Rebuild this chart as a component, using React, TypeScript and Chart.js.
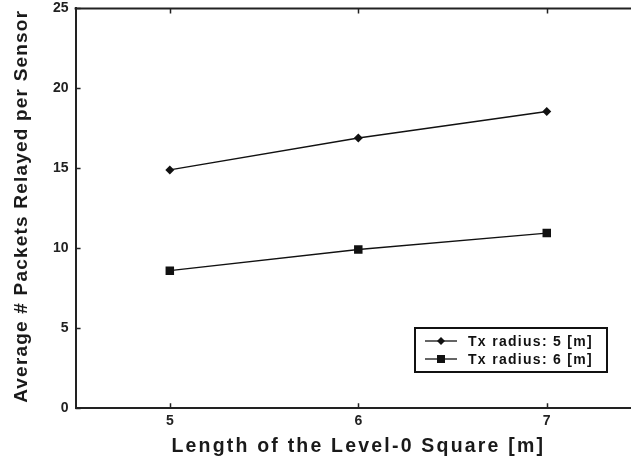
import React, { useEffect, useRef } from "react";
import { Chart, registerables } from "chart.js";

Chart.register(...registerables);

const categories = [5, 6, 7];
const seriesLabels = ["Tx radius: 5 [m]", "Tx radius: 6 [m]"];
const radius5Values = [14.9, 16.9, 18.55];
const radius6Values = [8.6, 9.92, 10.95];
const yTicks = [0, 5, 10, 15, 20, 25];
const xTitle = "Length of the Level-0 Square [m]";
const yTitle = "Average # Packets Relayed per Sensor";

const FONT = "'Liberation Sans', Arial, Helvetica, sans-serif";
const SHIFT = 7;

const framePlugin = {
  id: "frame",
  afterDraw(chart: any) {
    const { ctx, chartArea: a, scales } = chart;
    const xs = scales.x;
    const ys = scales.y;
    ctx.save();
    ctx.strokeStyle = "#222";
    ctx.lineWidth = 2;
    ctx.beginPath();
    ctx.moveTo(a.left - 1, a.top);
    ctx.lineTo(a.right, a.top);
    ctx.stroke();
    ctx.lineWidth = 1.5;
    for (const v of categories) {
      const px = Math.round(xs.getPixelForValue(v)) + 0.5;
      ctx.beginPath();
      ctx.moveTo(px, a.bottom);
      ctx.lineTo(px, a.bottom - 5);
      ctx.moveTo(px, a.top);
      ctx.lineTo(px, a.top + 5);
      ctx.stroke();
    }
    for (const v of yTicks) {
      const py = Math.round(ys.getPixelForValue(v)) + 0.5;
      ctx.beginPath();
      ctx.moveTo(a.left, py);
      ctx.lineTo(a.left + 5, py);
      ctx.stroke();
    }
    // axis titles
    ctx.fillStyle = "#1a1a1a";
    ctx.font = `bold 19.5px ${FONT}`;
    (ctx as any).letterSpacing = "2.2px";
    ctx.textAlign = "center";
    ctx.textBaseline = "alphabetic";
    ctx.fillText(xTitle, (a.left + 641) / 2, 452 + SHIFT);
    ctx.save();
    ctx.translate(27, (a.top + a.bottom) / 2 - 2);
    ctx.rotate(-Math.PI / 2);
    ctx.font = `bold 19px ${FONT}`;
    (ctx as any).letterSpacing = "1.2px";
    ctx.fillText(yTitle, 0, 0);
    ctx.restore();
    // legend
    const lx = 415, ly = 328 + SHIFT, lw = 192, lh = 44;
    ctx.fillStyle = "#fff";
    ctx.fillRect(lx, ly, lw, lh);
    ctx.lineWidth = 2;
    ctx.strokeStyle = "#111";
    ctx.strokeRect(lx, ly, lw, lh);
    const styles = ["rectRot", "rect"];
    seriesLabels.forEach((lab, i) => {
      const cy = ly + 13 + i * 18;
      ctx.strokeStyle = "#111";
      ctx.lineWidth = 1.3;
      ctx.beginPath();
      ctx.moveTo(lx + 10, cy);
      ctx.lineTo(lx + 42, cy);
      ctx.stroke();
      ctx.fillStyle = "#111";
      if (styles[i] === "rectRot") {
        ctx.beginPath();
        ctx.moveTo(lx + 26, cy - 4);
        ctx.lineTo(lx + 30, cy);
        ctx.lineTo(lx + 26, cy + 4);
        ctx.lineTo(lx + 22, cy);
        ctx.closePath();
        ctx.fill();
      } else {
        ctx.fillRect(lx + 22, cy - 4, 8, 8);
      }
      ctx.font = `bold 14px ${FONT}`;
      (ctx as any).letterSpacing = "1.3px";
      ctx.textBaseline = "middle";
      ctx.textAlign = "left";
      ctx.fillText(lab, lx + 53, cy + 1);
    });
    ctx.restore();
  },
};

export default function App() {
  const ref = useRef<HTMLCanvasElement | null>(null);
  useEffect(() => {
    if (!ref.current) return;
    const chart = new Chart(ref.current, {
      type: "line",
      data: {
        datasets: [
          {
            label: seriesLabels[0],
            data: categories.map((c, i) => ({ x: c, y: radius5Values[i] })),
            borderColor: "#111",
            backgroundColor: "#111",
            borderWidth: 1.4,
            pointStyle: "rectRot",
            pointRadius: 4.5,
            pointBorderWidth: 0,
          },
          {
            label: seriesLabels[1],
            data: categories.map((c, i) => ({ x: c, y: radius6Values[i] })),
            borderColor: "#111",
            backgroundColor: "#111",
            borderWidth: 1.4,
            pointStyle: "rect",
            pointRadius: 6,
            pointBorderWidth: 0,
          },
        ],
      },
      options: {
        animation: false,
        responsive: false,
        layout: { padding: { top: 0, right: 19, bottom: 38, left: 46 } },
        plugins: { legend: { display: false }, tooltip: { enabled: false } },
        scales: {
          x: {
            type: "linear",
            min: 4.5,
            max: 7.5,
            afterBuildTicks: (s: any) => {
              s.ticks = categories.map((v) => ({ value: v }));
            },
            grid: { display: false, drawTicks: false },
            border: { display: true, color: "#222", width: 2 },
            ticks: {
              color: "#222",
              padding: 5,
              font: { family: FONT, size: 14, weight: "bold" },
              maxRotation: 0,
            },
          },
          y: {
            min: 0,
            max: 25,
            afterBuildTicks: (s: any) => {
              s.ticks = yTicks.map((v) => ({ value: v }));
            },
            grid: { display: false, drawTicks: false },
            border: { display: true, color: "#222", width: 2 },
            ticks: {
              color: "#222",
              padding: 7,
              font: { family: FONT, size: 14, weight: "bold" },
            },
          },
        },
      },
      plugins: [framePlugin],
    } as any);
    return () => chart.destroy();
  }, []);
  return (
    <div style={{ position: "fixed", left: 0, top: 0, width: 631, height: 466, overflow: "hidden", background: "#fff" }}>
      <canvas
        ref={ref}
        width={660}
        height={480}
        style={{ display: "block", position: "absolute", left: 0, top: -SHIFT, width: 660, height: 480 }}
      />
    </div>
  );
}
